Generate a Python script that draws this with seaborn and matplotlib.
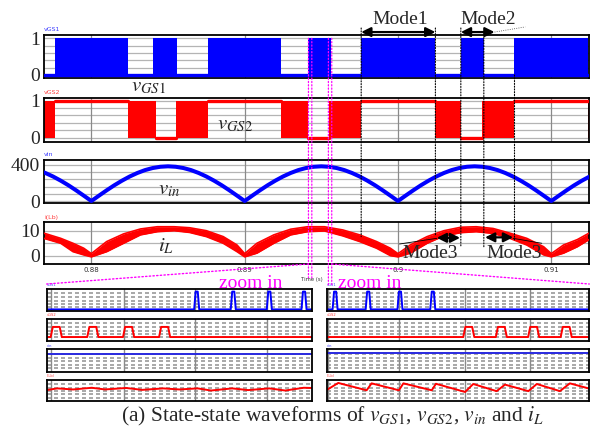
import numpy as np
import pandas as pd
import matplotlib.pyplot as plt
import seaborn as sns
from matplotlib.patches import ConnectionPatch

sns.set_style('white')
plt.rcParams['font.family'] = ['Liberation Serif', 'DejaVu Serif']
plt.rcParams['mathtext.fontset'] = 'stix'

BLUE = '#0000ff'
RED = '#ff0000'
MAGENTA = '#ff00ff'
GRID = '#b4b4b4'

# ---------------------------------------------------------------- data
t_start, t_end = 0.87693, 0.91246
time_ticks = [0.88, 0.89, 0.90, 0.91]
time_labels = ['0.88', '0.89', '0.9', '0.91']

# vGS1: windows where the switch is pulsing (otherwise held at 0)
gs1_sw_start = [0.8776, 0.8840, 0.8876, 0.8941, 0.8976, 0.9041, 0.9076]
gs1_sw_end = [0.8824, 0.8856, 0.8924, 0.8956, 0.9024, 0.9056, 0.9124]

# vGS2: pulsing windows, held-high windows, held-low windows
gs2_sw_start = [0.87693, 0.8824, 0.8855, 0.8924, 0.8955, 0.9024, 0.9055, 0.9124]
gs2_sw_end = [0.8776, 0.8842, 0.8876, 0.8941, 0.8976, 0.9041, 0.9076, 0.91246]
gs2_high_start = [0.8776, 0.8876, 0.8976, 0.9076]
gs2_high_end = [0.8824, 0.8924, 0.9024, 0.9124]
gs2_low_start = [0.8842, 0.8941, 0.9041]
gs2_low_end = [0.8855, 0.8955, 0.9055]

# vin: one rectified half cycle sampled every 0.5 ms, repeated at each zero crossing
vin_step = 0.0005
vin_half = [0, 60, 119, 175, 226, 272, 311, 343, 366, 380, 385,
            380, 366, 343, 311, 272, 226, 175, 119, 60, 0]
zero_cross = [0.87, 0.88, 0.89, 0.90, 0.91]

# inductor current band (ripple envelope)
il_t = [0.8769, 0.8780, 0.8788, 0.8795, 0.8800, 0.8810, 0.8821, 0.8832, 0.8843,
        0.8854, 0.8864, 0.8875, 0.8886, 0.8895, 0.8900, 0.8908, 0.8919, 0.8930,
        0.8941, 0.8952, 0.8964, 0.8975, 0.8986, 0.8995, 0.9000, 0.9008, 0.9019,
        0.9030, 0.9041, 0.9051, 0.9062, 0.9073, 0.9084, 0.9095, 0.9100, 0.9108,
        0.9117, 0.91246]
il_hi = [9.1, 7.0, 5.0, 3.0, 0.8, 5.7, 8.8, 10.8, 11.7, 11.7, 11.3, 10.1, 7.7, 4.3,
         0.8, 5.0, 8.4, 10.7, 11.7, 11.7, 10.4, 8.4, 5.7, 3.0, 0.8, 4.3, 7.7, 10.1,
         11.5, 11.7, 11.0, 9.1, 7.0, 3.6, 0.8, 4.3, 6.5, 9.1]
il_lo = [7.0, 5.0, 1.6, 0.3, -0.5, 1.6, 5.0, 8.4, 9.7, 10.1, 9.4, 7.7, 5.0, 1.6,
         -0.5, 1.0, 5.0, 8.4, 9.7, 10.0, 8.0, 5.7, 3.0, 0.0, -0.5, 1.0, 5.0, 8.0,
         9.3, 9.7, 9.0, 7.0, 4.3, 0.3, -0.5, 1.0, 3.6, 6.5]

# mode boundaries (dotted markers) and where they stop on the iL trace
mode_edges = [0.8976, 0.90244, 0.9041, 0.9056, 0.9076]
mode_top = [1.28, 1.28, 1.28, 1.18, 0.0]
mode_il_end = [7.7, 8.4, 3.6, 3.6, 6.4]

# zoom windows
zoom_left = [0.89416, 0.89438]
zoom_right = [0.89546, 0.89568]

# zoomed traces, x as fraction of the zoom window
zl_gs1_pulses = [0.566, 0.704, 0.840, 0.971]
zr_gs1_pulses = [0.032, 0.158, 0.279, 0.404]
zl_gs2_pulses = [0.036, 0.174, 0.309, 0.445]
zr_gs2_pulses = [0.541, 0.665, 0.788, 0.912]
zl_vin_level = 0.79
zr_vin_level = 0.82
zl_il_x = [0, 0.04, 0.10, 0.17, 0.22, 0.30, 0.36, 0.44, 0.50, 0.57, 0.62, 0.70,
           0.76, 0.84, 0.90, 0.97, 1.0]
zl_il_y = [0.52, 0.60, 0.55, 0.63, 0.55, 0.62, 0.53, 0.60, 0.55, 0.60, 0.50, 0.60,
           0.52, 0.60, 0.50, 0.63, 0.62]
zr_il_x = [0.002, 0.044, 0.152, 0.171, 0.275, 0.292, 0.400, 0.416, 0.527, 0.558,
           0.647, 0.679, 0.768, 0.800, 0.888, 0.926, 1.0]
zr_il_y = [0.54, 0.86, 0.51, 0.84, 0.51, 0.84, 0.51, 0.82, 0.43, 0.81, 0.47, 0.78,
           0.47, 0.81, 0.47, 0.84, 0.59]
zl_vgrid = [0.015, 0.292, 0.560, 0.830]
zr_vgrid = [0.006, 0.276, 0.527, 0.775]

# ---------------------------------------------------------------- figure
fig = plt.figure(figsize=(5.92, 4.30), dpi=100)
W, H = 592.0, 430.0


def px_axes(x0, y0, x1, y1):
    return fig.add_axes([x0 / W, 1 - y1 / H, (x1 - x0) / W, (y1 - y0) / H])


ax1 = px_axes(44.3, 35, 589, 78.3)
ax2 = px_axes(44.3, 97.7, 589, 141.7)
ax3 = px_axes(44.3, 160, 589, 203)
ax4 = px_axes(44.3, 222.3, 589, 264)
top_axes = [ax1, ax2, ax3, ax4]

ylims = [(-0.09, 1.09), (-0.11, 1.076), (-22, 455), (-3.4, 13.5)]
hgrids = [np.arange(0, 1.01, 0.2), np.arange(0, 1.01, 0.2),
          np.arange(0, 401, 80), [0, 5, 10]]
yticks = [[0, 1], [0, 1], [0, 400], [0, 10]]
names = ['vGS1', 'vGS2', 'vin', 'i(Lb)']
name_cols = ['#3a3aff', '#ff4040', '#3a3aff', '#ff4040']

for ax, yl, hg, yt, nm, nc in zip(top_axes, ylims, hgrids, yticks, names, name_cols):
    ax.set_xlim(t_start, t_end)
    ax.set_ylim(*yl)
    for g in hg:
        ax.axhline(g, color=GRID, lw=0.9, zorder=0)
    for tt in time_ticks:
        ax.axvline(tt, color='#8a8a8a', lw=0.9, zorder=0)
    ax.set_yticks(yt)
    ax.set_yticklabels([str(v) for v in yt], fontsize=14)
    ax.set_xticks(time_ticks)
    ax.tick_params(length=0, pad=3)
    for s in ax.spines.values():
        s.set_color('black')
        s.set_linewidth(1.3)
    ax.text(0.0, 1.06, nm, transform=ax.transAxes, fontsize=4.5, color=nc,
            family='DejaVu Sans', va='bottom')

for ax in top_axes[:3]:
    ax.set_xticklabels([])
ax4.set_xticklabels(time_labels, fontsize=5, family='DejaVu Sans', color='#333333')
ax4.tick_params(axis='x', pad=2)

# vGS1
for s, e in zip(gs1_sw_start, gs1_sw_end):
    ax1.fill_between([s, e], 0, 1, color=BLUE, lw=0, zorder=2)
sns.lineplot(x=[t_start, t_end], y=[0, 0], ax=ax1, color=BLUE, lw=2.4, zorder=3)

# vGS2
for s, e in zip(gs2_sw_start, gs2_sw_end):
    ax2.fill_between([s, e], 0, 1, color=RED, lw=0, zorder=2)
seg_rows = []
for i, (s, e) in enumerate(zip(gs2_high_start, gs2_high_end)):
    seg_rows += [(f'h{i}', s, 1.0), (f'h{i}', e, 1.0)]
for i, (s, e) in enumerate(zip(gs2_low_start, gs2_low_end)):
    seg_rows += [(f'l{i}', s, 0.0), (f'l{i}', e, 0.0)]
gs2_df = pd.DataFrame(seg_rows, columns=['seg', 't', 'level'])
sns.lineplot(data=gs2_df, x='t', y='level', units='seg', estimator=None, ax=ax2,
             color=RED, lw=2.4, zorder=3)

# vin
vin_rows = []
for z in zero_cross:
    for k, v in enumerate(vin_half):
        vin_rows.append((z + k * vin_step, v))
vin_df = pd.DataFrame(vin_rows, columns=['t', 'vin'])
sns.lineplot(data=vin_df, x='t', y='vin', ax=ax3, color=BLUE, lw=2.9,
             estimator=None, sort=False, zorder=3)

# iL band
ax4.fill_between(il_t, il_lo, il_hi, color=RED, lw=0, zorder=2)
sns.lineplot(x=il_t, y=il_hi, ax=ax4, color=RED, lw=1.2, zorder=3)
sns.lineplot(x=il_t, y=il_lo, ax=ax4, color=RED, lw=1.2, zorder=3)

for ax in top_axes:
    ax.set_xlabel('')
    ax.set_ylabel('')

# trace names
ax1.text(0.8837, -0.31, r'$v_{GS1}$', fontsize=15, ha='center', va='center', clip_on=False)
ax2.text(0.88937, 0.34, r'$v_{GS2}$', fontsize=15, ha='center', va='center')
ax3.text(0.88507, 122, r'$v_{in}$', fontsize=15, ha='center', va='center')
ax4.text(0.88487, 3.9, r'$i_L$', fontsize=15, ha='center', va='center')

# mode markers
for t, y0, y1 in zip(mode_edges, mode_top, mode_il_end):
    con = ConnectionPatch(xyA=(t, y0), coordsA=ax1.transData, xyB=(t, y1),
                          coordsB=ax4.transData, ls=(0, (1, 1.5)), color='black', lw=0.8)
    fig.add_artist(con)

arrow_kw = dict(arrowstyle='<|-|>', color='black', lw=1.6, mutation_scale=14,
                shrinkA=0, shrinkB=0)
ax1.annotate('', xy=(0.8976, 1.17), xytext=(0.90244, 1.17), xycoords='data',
             arrowprops=arrow_kw, annotation_clip=False)
ax1.annotate('', xy=(0.9041, 1.17), xytext=(0.9063, 1.17), xycoords='data',
             arrowprops=arrow_kw, annotation_clip=False)
ax1.plot([0.9063, 0.9083], [1.17, 1.31], color='#444444', lw=0.6, ls=':', clip_on=False)
ax1.text(0.90012, 1.50, 'Mode1', fontsize=14, ha='center', va='center', clip_on=False)
ax1.text(0.9059, 1.50, 'Mode2', fontsize=14, ha='center', va='center', clip_on=False)

ax4.annotate('', xy=(0.90253, 7.2), xytext=(0.90405, 7.2), arrowprops=arrow_kw)
ax4.annotate('', xy=(0.90568, 7.4), xytext=(0.90751, 7.4), arrowprops=arrow_kw)
ax4.plot([0.9001, 0.90253], [4.7, 7.0], color='black', lw=0.6, zorder=4)
ax4.plot([0.90751, 0.90938], [7.0, 5.0], color='black', lw=0.6, zorder=4)
ax4.text(0.90211, 1.0, 'Mode3', fontsize=14, ha='center', va='center', zorder=5)
ax4.text(0.90758, 1.0, 'Mode3', fontsize=14, ha='center', va='center', zorder=5)

# ---------------------------------------------------------------- zoomed panels
rows_y = [(289, 310.7), (319, 341), (349.3, 371.7), (380, 401)]
zl_axes = [px_axes(46.7, a, 311.7, b) for a, b in rows_y]
zr_axes = [px_axes(326.7, a, 589.3, b) for a, b in rows_y]


def pulse_train(centers, base_w, top_w, lo, hi):
    xs, ys = [0.0], [lo]
    for c in centers:
        xs += [c - base_w / 2, c - top_w / 2, c + top_w / 2, c + base_w / 2]
        ys += [lo, hi, hi, lo]
    xs.append(1.0)
    ys.append(lo)
    return xs, ys


for axes, vg in [(zl_axes, zl_vgrid), (zr_axes, zr_vgrid)]:
    for i, ax in enumerate(axes):
        ax.set_xlim(0, 1)
        ax.set_ylim(0, 1)
        ax.set_xticks([])
        ax.set_yticks([])
        for g in [0.16, 0.31, 0.47, 0.63, 0.80]:
            ax.axhline(g, color='#9a9a9a', lw=1.2, ls=(0, (2.4, 1.8)), zorder=0)
        for v in vg:
            ax.axvline(v, color='#8a8a8a', lw=1.0, zorder=0)
        for s in ax.spines.values():
            s.set_color('black')
            s.set_linewidth(1.3)
        ax.text(0.0, 1.08, names[i], transform=ax.transAxes, fontsize=2.6,
                color=name_cols[i], family='DejaVu Sans', va='bottom')

traces = [
    (zl_axes[0], pulse_train(zl_gs1_pulses, 0.019, 0.008, 0.06, 0.88), BLUE),
    (zr_axes[0], pulse_train(zr_gs1_pulses, 0.019, 0.008, 0.06, 0.88), BLUE),
    (zl_axes[1], pulse_train(zl_gs2_pulses, 0.042, 0.026, 0.18, 0.64), RED),
    (zr_axes[1], pulse_train(zr_gs2_pulses, 0.042, 0.026, 0.18, 0.64), RED),
    (zl_axes[2], ([0, 1], [zl_vin_level, zl_vin_level]), '#2a2ae0'),
    (zr_axes[2], ([0, 1], [zr_vin_level, zr_vin_level]), '#2a2ae0'),
    (zl_axes[3], (zl_il_x, zl_il_y), RED),
    (zr_axes[3], (zr_il_x, zr_il_y), RED),
]
for ax, (xs, ys), col in traces:
    sns.lineplot(x=xs, y=ys, ax=ax, color=col, lw=1.4, estimator=None, sort=False)
    ax.set_xlabel('')
    ax.set_ylabel('')

# zoom markers
for t in zoom_left:
    fig.add_artist(ConnectionPatch(xyA=(t, 1.0), coordsA=ax1.transData, xyB=(t, -9.9),
                                   coordsB=ax4.transData, color=MAGENTA, lw=0.9, ls=':'))
for t in zoom_right:
    fig.add_artist(ConnectionPatch(xyA=(t, 1.0), coordsA=ax1.transData, xyB=(t, -12.6),
                                   coordsB=ax4.transData, color=MAGENTA, lw=0.9, ls=':'))
fig.add_artist(ConnectionPatch(xyA=(zoom_left[0], -3.4), coordsA=ax4.transData,
                               xyB=(0, 1.23), coordsB=zl_axes[0].transAxes,
                               color=MAGENTA, lw=1.0, ls=':'))
fig.add_artist(ConnectionPatch(xyA=(zoom_right[1], -3.4), coordsA=ax4.transData,
                               xyB=(1, 1.23), coordsB=zr_axes[0].transAxes,
                               color=MAGENTA, lw=1.0, ls=':'))
fig.text(251 / W, 1 - 288.5 / H, 'zoom in', color=MAGENTA, fontsize=14,
         ha='center', va='baseline')
fig.text(370 / W, 1 - 288.5 / H, 'zoom in', color=MAGENTA, fontsize=14,
         ha='center', va='baseline')
fig.text(312 / W, 1 - 279 / H, 'Time (s)', fontsize=3.8, family='DejaVu Sans',
         color='#333333', ha='center', va='center')

fig.text(333 / W, 1 - 416 / H,
         r'(a) State-state waveforms of $v_{GS1}$, $v_{GS2}$, $v_{in}$ and $i_L$',
         fontsize=15.5, ha='center', va='center')

fig.savefig('out.png', dpi=100)
